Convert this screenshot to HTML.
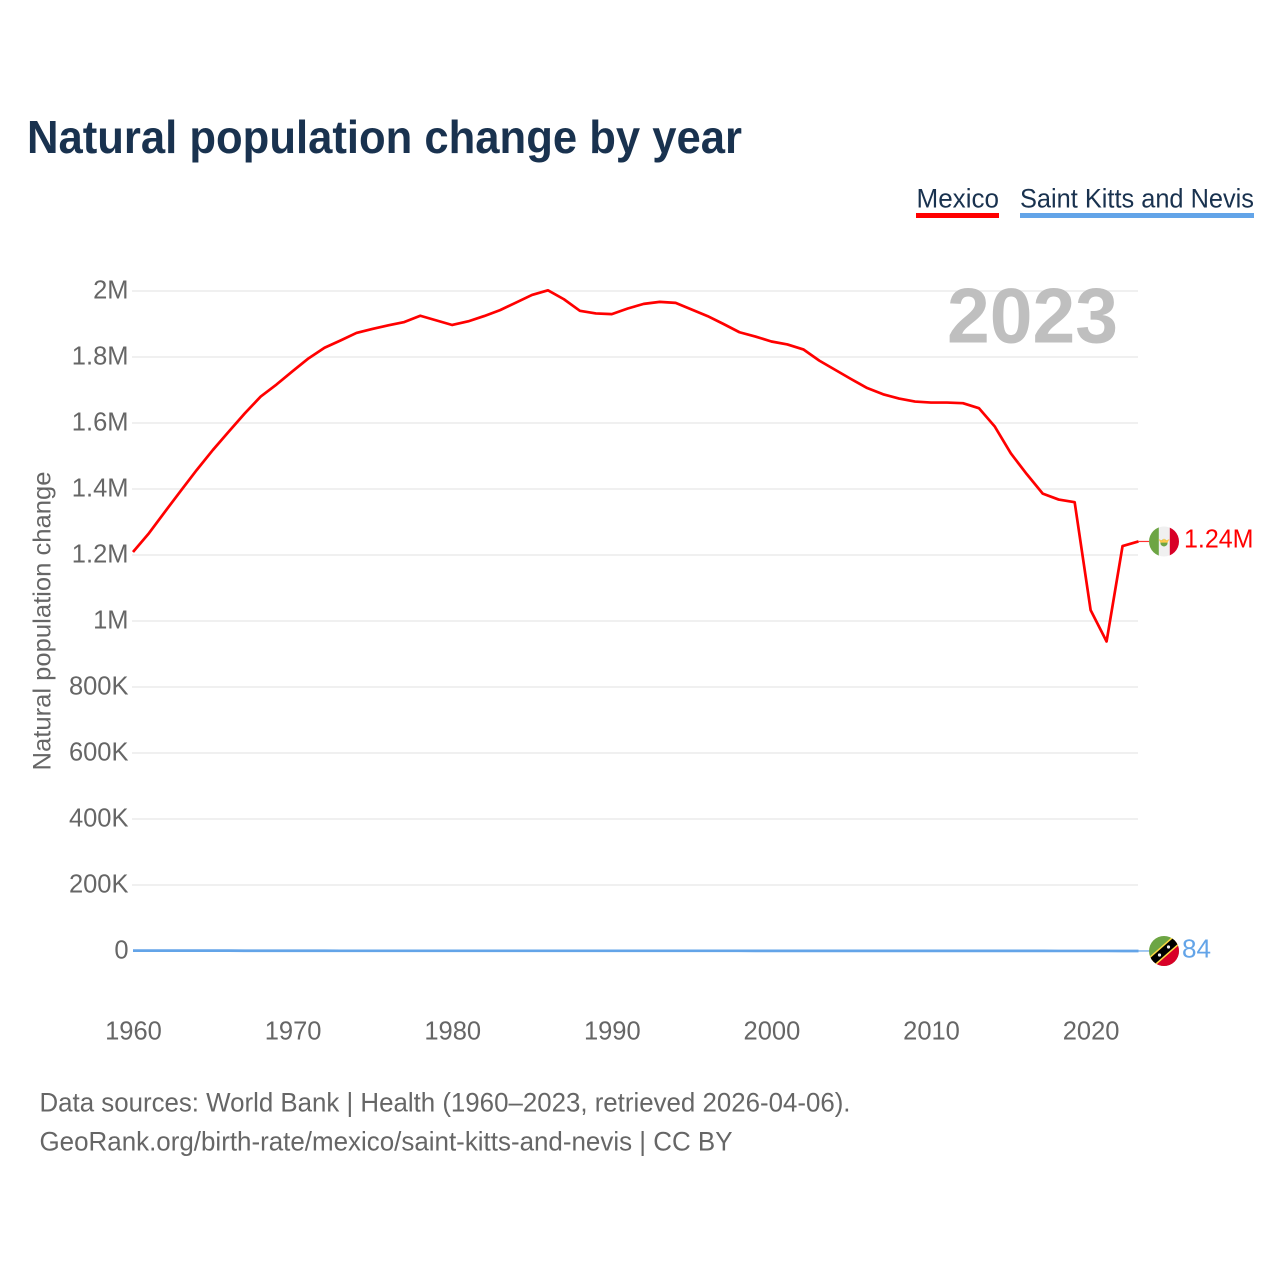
<!DOCTYPE html>
<html lang="en">
<head>
<meta charset="utf-8">
<title>Natural population change by year</title>
<style>
  html, body { margin: 0; padding: 0; background: #fff; }
  svg { display: block; font-family: "Liberation Sans", sans-serif; }
</style>
</head>
<body>
<svg id="chart" width="1280" height="1280" viewBox="0 0 1280 1280" xmlns="http://www.w3.org/2000/svg">
  <defs>
    <clipPath id="flag-clip"><circle cx="0" cy="0" r="15"></circle></clipPath>
  </defs>
  <rect width="1280" height="1280" fill="#ffffff"></rect>
  <text x="27" y="153" font-size="46" font-weight="700" fill="#19324f" textLength="715" lengthAdjust="spacingAndGlyphs">Natural population change by year</text>

  <g>
    <g>
      <text x="916.5" y="207.5" font-size="27" fill="#19324f" textLength="82.5" lengthAdjust="spacingAndGlyphs">Mexico</text>
      <rect x="916" y="213" width="83" height="5" fill="#ff0000"></rect>
    </g>
    <g>
      <text x="1020" y="207.5" font-size="27" fill="#19324f" textLength="234" lengthAdjust="spacingAndGlyphs">Saint Kitts and Nevis</text>
      <rect x="1020" y="213" width="234" height="5" fill="#63a4e8"></rect>
    </g>
  </g>

  <g id="grid"></g>
  <g id="y-ticks"></g>
  <g id="x-ticks"></g>

  <text x="1118" y="342.5" text-anchor="end" font-size="78" font-weight="700" fill="#bfbfbf" textLength="171" lengthAdjust="spacingAndGlyphs">2023</text>

  <text transform="translate(50.5 621) rotate(-90)" text-anchor="middle" font-size="25" fill="#666666" textLength="299" lengthAdjust="spacingAndGlyphs">Natural population change</text>

  <g id="series"></g>
  <g id="end-markers"></g>

  <g>
    <text x="39.5" y="1111.5" font-size="27" fill="#666666" textLength="811" lengthAdjust="spacingAndGlyphs">Data sources: World Bank | Health (1960–2023, retrieved 2026-04-06).</text>
    <text x="39.5" y="1150.5" font-size="27" fill="#666666" textLength="693" lengthAdjust="spacingAndGlyphs">GeoRank.org/birth-rate/mexico/saint-kitts-and-nevis | CC BY</text>
  </g>
</svg>

<script>
const years = [1960,1961,1962,1963,1964,1965,1966,1967,1968,1969,1970,1971,1972,1973,1974,1975,1976,1977,1978,1979,1980,1981,1982,1983,1984,1985,1986,1987,1988,1989,1990,1991,1992,1993,1994,1995,1996,1997,1998,1999,2000,2001,2002,2003,2004,2005,2006,2007,2008,2009,2010,2011,2012,2013,2014,2015,2016,2017,2018,2019,2020,2021,2022,2023];
const mexicoValues = [1209000,1266000,1331000,1395000,1458000,1518000,1574000,1629000,1680000,1717000,1757000,1796000,1828000,1850000,1873000,1885000,1896000,1906000,1925000,1911000,1897000,1908000,1924000,1942000,1965000,1988000,2002000,1975000,1940000,1932000,1930000,1947000,1961000,1967000,1964000,1944000,1924000,1900000,1875000,1862000,1847000,1838000,1823000,1789000,1761000,1733000,1706000,1687000,1674000,1665000,1662000,1662000,1660000,1645000,1589000,1508000,1445000,1386000,1368000,1360000,1033000,938000,1227000,1241000];
const kittsValues = [1150,1160,1170,1140,1120,1090,1040,850,720,690,680,670,660,650,640,640,630,620,620,610,600,600,590,590,580,570,570,560,560,550,550,540,540,530,530,520,520,510,510,500,500,490,480,480,470,470,460,450,450,440,430,330,310,300,290,280,270,260,240,220,150,110,100,84];
const yTickValues = [0,200000,400000,600000,800000,1000000,1200000,1400000,1600000,1800000,2000000];
const yTickLabels = ["0","200K","400K","600K","800K","1M","1.2M","1.4M","1.6M","1.8M","2M"];
const xTickValues = [1960,1970,1980,1990,2000,2010,2020];
const mexicoEndLabel = "1.24M";
const kittsEndLabel = "84";

const SVG_NS = "http://www.w3.org/2000/svg";
const xScale = function (year) { return 133 + (year - 1960) * (1138.5 - 133) / 63; };
const yScale = function (value) { return 951 - value * 660 / 2000000; };

function make(tag, attrs, parent, text) {
  const el = document.createElementNS(SVG_NS, tag);
  Object.keys(attrs).forEach(function (k) { el.setAttribute(k, attrs[k]); });
  if (text !== undefined) el.textContent = text;
  parent.appendChild(el);
  return el;
}

const gridGroup = document.getElementById("grid");
const yTickGroup = document.getElementById("y-ticks");
const xTickGroup = document.getElementById("x-ticks");
const seriesGroup = document.getElementById("series");
const markerGroup = document.getElementById("end-markers");

yTickValues.forEach(function (v, i) {
  const y = yScale(v);
  if (v !== 0) {
    const line = make("line", { x1: 132, x2: 1138, y1: y, y2: y, stroke: "#eeeeee", "stroke-width": 1.8 }, gridGroup);
    
    
  }
  const label = make("text", { x: 128.5, y: y + 7.5, "text-anchor": "end", "font-size": 25.5, fill: "#666666" }, yTickGroup, yTickLabels[i]);
  
  
});

xTickValues.forEach(function (year) {
  const label = make("text", { x: xScale(year) + 0.5, y: 1039.5, "text-anchor": "middle", "font-size": 25.5, fill: "#666666" }, xTickGroup, String(year));
  
  
});

function points(values) {
  return values.map(function (v, i) { return xScale(years[i]).toFixed(2) + "," + yScale(v).toFixed(2); }).join(" ");
}

const kittsLine = make("polyline", { points: points(kittsValues), fill: "none", stroke: "#63a4e8", "stroke-width": 2.7, "stroke-linejoin": "round" }, seriesGroup);



const mexicoLine = make("polyline", { points: points(mexicoValues), fill: "none", stroke: "#ff0000", "stroke-width": 2.7, "stroke-linejoin": "round" }, seriesGroup);



/* Mexico end marker */
const mexicoEndY = yScale(mexicoValues[mexicoValues.length - 1]);
const mexicoLead = make("line", { x1: 1138, x2: 1149, y1: mexicoEndY, y2: mexicoEndY, stroke: "#ff3030", "stroke-width": 1.2 }, markerGroup);



const mexicoFlag = make("g", { transform: "translate(1164 " + mexicoEndY + ")", "clip-path": "url(#flag-clip)" }, markerGroup);


make("rect", { x: -15, y: -15, width: 30, height: 30, fill: "#f0f0f0" }, mexicoFlag);
make("rect", { x: -15, y: -15, width: 9.8, height: 30, fill: "#6da544" }, mexicoFlag);
make("rect", { x: 5.8, y: -15, width: 9.2, height: 30, fill: "#d80027" }, mexicoFlag);
make("circle", { cx: 0, cy: 1.4, r: 3.6, fill: "#6da544" }, mexicoFlag);
make("path", { d: "M-5.5 -2.5 L-2 -1 L0 -3 L2 -1 L5.5 -2.5 L3.6 1.2 L-3.6 1.2 Z", fill: "#ffc94a" }, mexicoFlag);

const mexicoValueLabel = make("text", { x: 1184, y: mexicoEndY + 6, "font-size": 26, fill: "#ff0000", textLength: 69.5, lengthAdjust: "spacingAndGlyphs" }, markerGroup, mexicoEndLabel);



/* Saint Kitts and Nevis end marker */
const kittsEndY = yScale(kittsValues[kittsValues.length - 1]);
const kittsLead = make("line", { x1: 1138, x2: 1149, y1: kittsEndY, y2: kittsEndY, stroke: "#63a4e8", "stroke-width": 1.2 }, markerGroup);



const kittsFlag = make("g", { transform: "translate(1164 " + kittsEndY + ")", "clip-path": "url(#flag-clip)" }, markerGroup);


make("rect", { x: -15, y: -15, width: 30, height: 30, fill: "#6da544" }, kittsFlag);
make("path", { d: "M-15 15 L15 -15 L15 15 Z", fill: "#d80027" }, kittsFlag);
make("line", { x1: -16, y1: 14, x2: 16, y2: -14, stroke: "#ffda44", "stroke-width": 10.5 }, kittsFlag);
make("line", { x1: -16, y1: 14, x2: 16, y2: -14, stroke: "#000000", "stroke-width": 7.5 }, kittsFlag);
make("circle", { cx: -4.5, cy: 4, r: 1.6, fill: "#f0f0f0" }, kittsFlag);
make("circle", { cx: 4.5, cy: -4, r: 1.6, fill: "#f0f0f0" }, kittsFlag);

const kittsValueLabel = make("text", { x: 1182, y: kittsEndY + 6.5, "font-size": 26, fill: "#63a4e8", textLength: 29, lengthAdjust: "spacingAndGlyphs" }, markerGroup, kittsEndLabel);


</script>
</body>
</html>
